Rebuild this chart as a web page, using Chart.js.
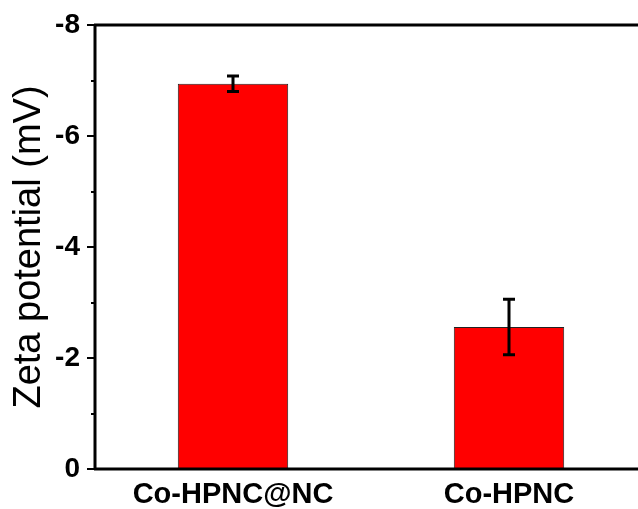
<!DOCTYPE html>
<html>
<head>
<meta charset="utf-8">
<script src="https://cdn.jsdelivr.net/npm/chart.js@4.4.1/dist/chart.umd.min.js"></script>
<style>
  html, body { margin: 0; padding: 0; background: #fff; overflow: hidden; }
  #wrap { width: 648px; height: 509px; }
</style>
</head>
<body>
<div id="wrap"><canvas id="chartCanvas" width="648" height="509"></canvas></div>
<script>
// Samples and measured zeta potential (mV)
const categories = ["Co-HPNC@NC", "Co-HPNC"];
const zetaValues = [-6.94, -2.56];
const zetaErrors = [0.14, 0.50];

const yMin = -8;
const yMax = 0;
const fontFamily = "'Liberation Sans', Arial, sans-serif";

// axis lines, frame top, ticks and error bars drawn by hand
const framePlugin = {
    id: "frame",
    afterDatasetsDraw(chart) {
        const ctx = chart.ctx;
        const area = chart.chartArea;
        const yScale = chart.scales.y;
        const xScale = chart.scales.x;
        ctx.save();
        ctx.strokeStyle = "#000";

        // error bars
        const meta = chart.getDatasetMeta(0);
        ctx.lineWidth = 3;
        meta.data.forEach((bar, i) => {
            const x = bar.x;
            const yTop = yScale.getPixelForValue(zetaValues[i] - zetaErrors[i]);
            const yBot = yScale.getPixelForValue(zetaValues[i] + zetaErrors[i]);
            ctx.beginPath();
            ctx.moveTo(x, yTop);
            ctx.lineTo(x, yBot);
            ctx.moveTo(x - 6, yTop);
            ctx.lineTo(x + 6, yTop);
            ctx.moveTo(x - 6, yBot);
            ctx.lineTo(x + 6, yBot);
            ctx.stroke();
        });

        // ticks: major every 2, minor in between
        ctx.lineWidth = 2;
        for (let v = yMin; v <= yMax; v++) {
            const y = Math.round(yScale.getPixelForValue(v));
            const len = v % 2 === 0 ? 8 : 4;
            ctx.beginPath();
            ctx.moveTo(area.left, y);
            ctx.lineTo(area.left - len, y);
            ctx.stroke();
        }

        // left axis, bottom axis, top frame line
        ctx.lineWidth = 3;
        ctx.beginPath();
        ctx.moveTo(area.left, area.top);
        ctx.lineTo(area.left, area.bottom);
        ctx.moveTo(area.left - 1, area.bottom);
        ctx.lineTo(xScale.right, area.bottom);
        ctx.moveTo(area.left - 1, area.top);
        ctx.lineTo(xScale.right, area.top);
        ctx.stroke();
        ctx.restore();
    }
};

const ctx = document.getElementById("chartCanvas").getContext("2d");
const myChart = new Chart(ctx, {
    type: "bar",
    data: {
        labels: categories,
        datasets: [{
            data: zetaValues,
            backgroundColor: "#ff0000",
            borderColor: "#222222",
            borderWidth: 1,
            borderSkipped: false,
            barPercentage: 0.4,
            categoryPercentage: 1.0
        }]
    },
    options: {
        responsive: false,
        animation: false,
        layout: { padding: { top: 25, right: 1, left: 0, bottom: 0 } },
        plugins: {
            legend: { display: false },
            tooltip: { enabled: false }
        },
        scales: {
            x: {
                offset: true,
                grid: { display: false, drawTicks: false },
                border: { display: false },
                ticks: {
                    color: "#000",
                    padding: 9,
                    font: { family: fontFamily, size: 29, weight: "bold" }
                },
                afterFit: (scale) => {
                    scale.height = 40;
                    scale.paddingLeft = 0;
                    scale.paddingRight = 0;
                }
            },
            y: {
                min: yMin,
                max: yMax,
                reverse: true,
                grid: { display: false, drawTicks: false },
                border: { display: false },
                ticks: {
                    stepSize: 1,
                    color: "#000",
                    padding: 15,
                    font: { family: fontFamily, size: 28, weight: "bold" },
                    callback: (value) => (value % 2 === 0 ? String(value) : "")
                },
                title: {
                    display: true,
                    text: "Zeta potential (mV)",
                    color: "#000",
                    padding: { top: 7, bottom: 0 },
                    font: { family: fontFamily, size: 38, weight: "normal" }
                },
                afterFit: (scale) => {
                    scale.width = 95;
                    scale.paddingTop = 0;
                    scale.paddingBottom = 0;
                }
            }
        }
    },
    plugins: [framePlugin]
});
</script>
</body>
</html>
